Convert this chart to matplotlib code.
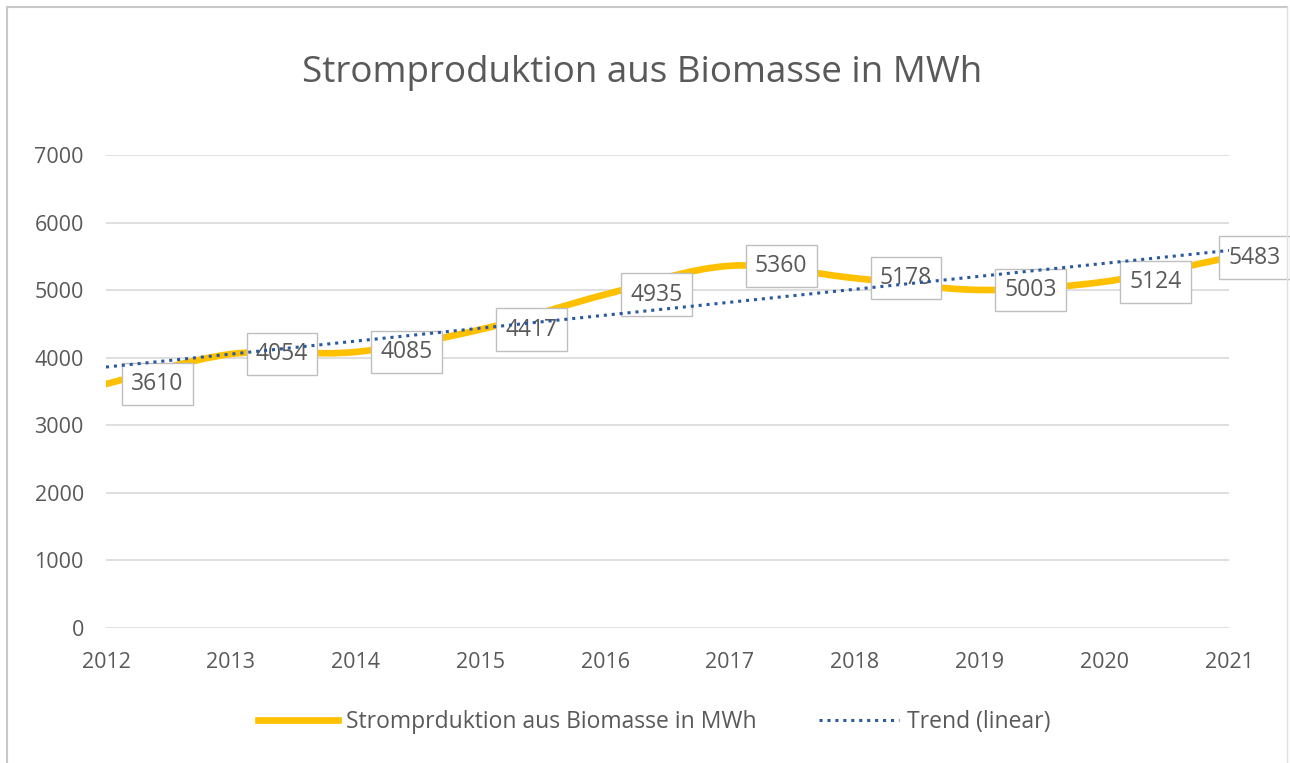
import numpy as np
import matplotlib
matplotlib.use("Agg")
import matplotlib.pyplot as plt
from matplotlib.path import Path
from matplotlib.patches import PathPatch
from matplotlib.lines import Line2D

plt.rcParams['font.family'] = ['Open Sans', 'DejaVu Sans']

years = ["2012", "2013", "2014", "2015", "2016", "2017", "2018", "2019", "2020", "2021"]
values = [3610, 4054, 4085, 4417, 4935, 5360, 5178, 5003, 5124, 5483]
y_ticks = [0, 1000, 2000, 3000, 4000, 5000, 6000, 7000]
title = "Stromproduktion aus Biomasse in MWh"
series_name = "Stromprduktion aus Biomasse in MWh"
trend_name = "Trend (linear)"

TXT = "#595959"
YELLOW = "#FFC000"
BLUE = "#2A5A9E"
GRID = "#D9D9D9"

W, H = 1290, 763
fig = plt.figure(figsize=(W / 100, H / 100), dpi=100)
ax = fig.add_axes([106 / W, 1 - 628 / H, (1229 - 106) / W, (628 - 155) / H])

x = np.arange(len(values))
y = np.array(values, dtype=float)

# smoothed line (Catmull-Rom style cubic Bezier like Excel)
verts = [(x[0], y[0])]
codes = [Path.MOVETO]
n = len(x)
for i in range(n - 1):
    p0 = np.array([x[i - 1], y[i - 1]]) if i > 0 else np.array([x[i], y[i]])
    p1 = np.array([x[i], y[i]])
    p2 = np.array([x[i + 1], y[i + 1]])
    p3 = np.array([x[i + 2], y[i + 2]]) if i + 2 < n else p2
    c1 = p1 + (p2 - p0) / 6.0
    c2 = p2 - (p3 - p1) / 6.0
    verts += [tuple(c1), tuple(c2), tuple(p2)]
    codes += [Path.CURVE4] * 3
ax.add_patch(PathPatch(Path(verts, codes), facecolor="none", edgecolor=YELLOW,
                       lw=4.8, capstyle="round", joinstyle="round", zorder=2))

# linear trend
k, b = np.polyfit(x, y, 1)
ax.plot(x, k * x + b, color=BLUE, lw=2.2, linestyle=(0, (1, 1.6)), zorder=5)

# data labels (right of the point; last one nudged inward to stay in view)
for i, (xi, yi) in enumerate(zip(x, values)):
    dx = 18 if i < n - 1 else -0.5
    ax.annotate(str(yi), (xi, yi), xytext=(dx, 0), textcoords="offset points",
                ha="left", va="center", fontsize=16.5, color=TXT, zorder=4,
                bbox=dict(boxstyle="square,pad=0.4", fc="white", ec="#BFBFBF", lw=1.0),
                annotation_clip=False)

ax.set_xlim(0, n - 1)
ax.set_ylim(0, 7000)
ax.set_xticks(x)
ax.set_xticklabels(years)
ax.set_yticks(y_ticks)
ax.set_yticklabels([str(t) for t in y_ticks])
ax.tick_params(axis="both", length=0, labelsize=15.5, colors=TXT)
ax.tick_params(axis="x", pad=17)
ax.tick_params(axis="y", pad=16)
ax.grid(axis="y", color=GRID, lw=1.2, zorder=0)
ax.set_axisbelow(True)
for s in ax.spines.values():
    s.set_visible(False)

fig.text(642 / W, 1 - 82 / H, title, ha="center", va="baseline", fontsize=26.5, color=TXT)

handles = [Line2D([], [], color=YELLOW, lw=4.8),
           Line2D([], [], color=BLUE, lw=2.2, linestyle=(0, (1, 1.6)))]
fig.legend(handles, [series_name, trend_name], loc="center", bbox_to_anchor=(654 / W, 1 - 722 / H),
           ncol=2, frameon=False, fontsize=16.5, labelcolor=TXT, handlelength=3.5,
           handletextpad=0.35, columnspacing=2.7)

# chart border
fig.add_artist(Line2D([7 / W, 7 / W], [0, 1 - 7 / H], color="#C8C8C8", lw=1.5))
fig.add_artist(Line2D([7 / W, 1287 / W], [1 - 7 / H, 1 - 7 / H], color="#C8C8C8", lw=1.5))
fig.add_artist(Line2D([1287 / W, 1287 / W], [0, 1 - 7 / H], color="#E0E0E0", lw=1.0))

fig.savefig("out.png", dpi=100, facecolor="white")
